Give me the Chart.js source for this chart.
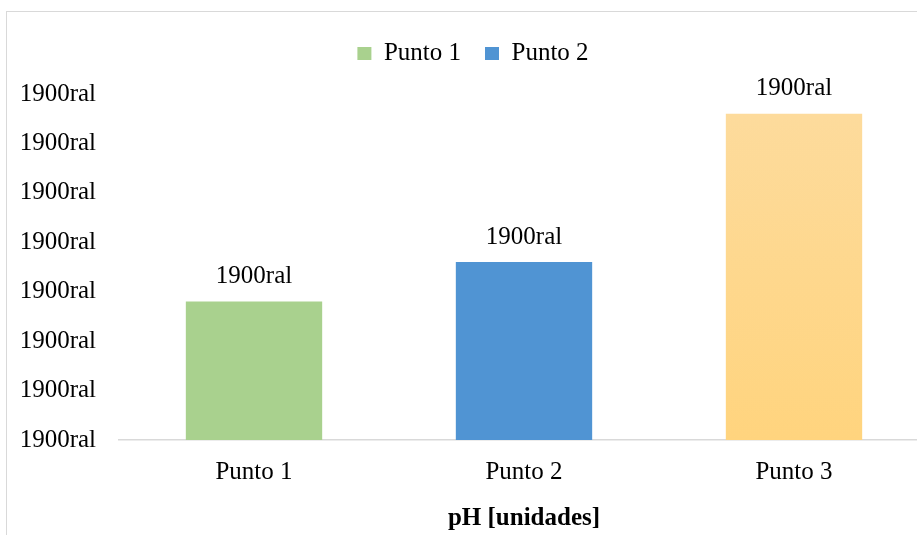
<!DOCTYPE html>
<html>
<head>
<meta charset="utf-8">
<script src="https://cdn.jsdelivr.net/npm/chart.js@4"></script>
<style>
  html, body { margin: 0; padding: 0; width: 917px; height: 535px; overflow: hidden; background: #fff; }
  #frame { position: absolute; left: 6px; top: 11px; width: 930px; height: 570px;
           border: 1.5px solid #d9d9d9; box-sizing: border-box; }
  #wrap { position: absolute; left: 7px; top: 12px; width: 922px; height: 545px; }
</style>
</head>
<body>
<div id="frame"></div>
<div id="wrap"><canvas id="chart" width="922" height="545"></canvas></div>
<script>
// pH per sampling point
const categories = ['Punto 1', 'Punto 2', 'Punto 3'];
const phValues = [7.4, 7.8, 9.3];
const legendNames = ['Punto 1', 'Punto 2'];
const yTicks = [6.0, 6.5, 7.0, 7.5, 8.0, 8.5, 9.0, 9.5];
const tickText = '1900ral';
const valueText = '1900ral';
const axisTitle = 'pH [unidades]';

const GREEN = '#A9D18E';
const BLUE = '#5094D3';
const FONT = '"Liberation Serif", "Times New Roman", serif';

function yellowFill(ctx) {
  const chart = ctx.chart;
  const area = chart.chartArea;
  const y = chart.scales && chart.scales.y;
  if (!area || !y) return '#FED680';
  const top = y.getPixelForValue(phValues[ctx.dataIndex]);
  if (!isFinite(top) || !isFinite(area.bottom) || top >= area.bottom) return '#FED680';
  const g = chart.ctx.createLinearGradient(0, top, 0, area.bottom);
  g.addColorStop(0, '#FDDB9C');
  g.addColorStop(1, '#FFD47E');
  return g;
}

// extra space under the legend row
const legendGap = {
  id: 'legendGap',
  beforeInit(chart) {
    const fit = chart.legend.fit;
    chart.legend.fit = function () {
      fit.call(this);
      this.height += 18;
    };
  }
};

const valueLabels = {
  id: 'valueLabels',
  afterDatasetsDraw(chart) {
    const { ctx } = chart;
    const meta = chart.getDatasetMeta(0);
    ctx.save();
    ctx.font = '25px ' + FONT;
    ctx.fillStyle = '#000';
    ctx.textAlign = 'center';
    ctx.textBaseline = 'middle';
    meta.data.forEach(bar => {
      ctx.fillText(valueText, bar.x, bar.y - 25);
    });
    ctx.restore();
  }
};

new Chart(document.getElementById('chart'), {
  type: 'bar',
  data: {
    labels: categories,
    datasets: [{
      data: phValues,
      backgroundColor: ctx => ctx.dataIndex === 0 ? GREEN : ctx.dataIndex === 1 ? BLUE : yellowFill(ctx),
      borderWidth: 0,
      categoryPercentage: 1.0,
      barPercentage: 0.505
    }]
  },
  options: {
    responsive: false,
    animation: false,
    layout: { padding: { left: 10, top: 5, right: 0, bottom: 23 } },
    plugins: {
      tooltip: { enabled: false },
      legend: {
        position: 'top',
        labels: {
          font: { family: FONT, size: 25 },
          color: '#000',
          boxWidth: 14,
          boxHeight: 13,
          padding: 24,
          generateLabels: () => legendNames.map((n, i) => ({
            text: n,
            fillStyle: i === 0 ? GREEN : BLUE,
            strokeStyle: 'rgba(0,0,0,0)',
            lineWidth: 0,
            hidden: false,
            datasetIndex: 0,
            index: i
          }))
        }
      }
    },
    scales: {
      x: {
        grid: { display: false, drawTicks: false },
        border: { display: true, color: '#D9D9D9', width: 1.5 },
        ticks: { font: { family: FONT, size: 25 }, color: '#000', padding: 17 },
        title: {
          display: true,
          text: axisTitle,
          font: { family: FONT, size: 25, weight: 'bold' },
          color: '#000',
          padding: { top: 0, bottom: 0 }
        }
      },
      y: {
        min: yTicks[0],
        max: yTicks[yTicks.length - 1],
        afterBuildTicks: axis => { axis.ticks = yTicks.map(v => ({ value: v })); },
        afterFit: axis => { axis.width = 102; },
        grid: { display: false, drawTicks: false },
        border: { display: false },
        ticks: {
          font: { family: FONT, size: 25 },
          color: '#000',
          padding: 23,
          callback: () => tickText
        }
      }
    }
  },
  plugins: [legendGap, valueLabels]
});
</script>
</body>
</html>
